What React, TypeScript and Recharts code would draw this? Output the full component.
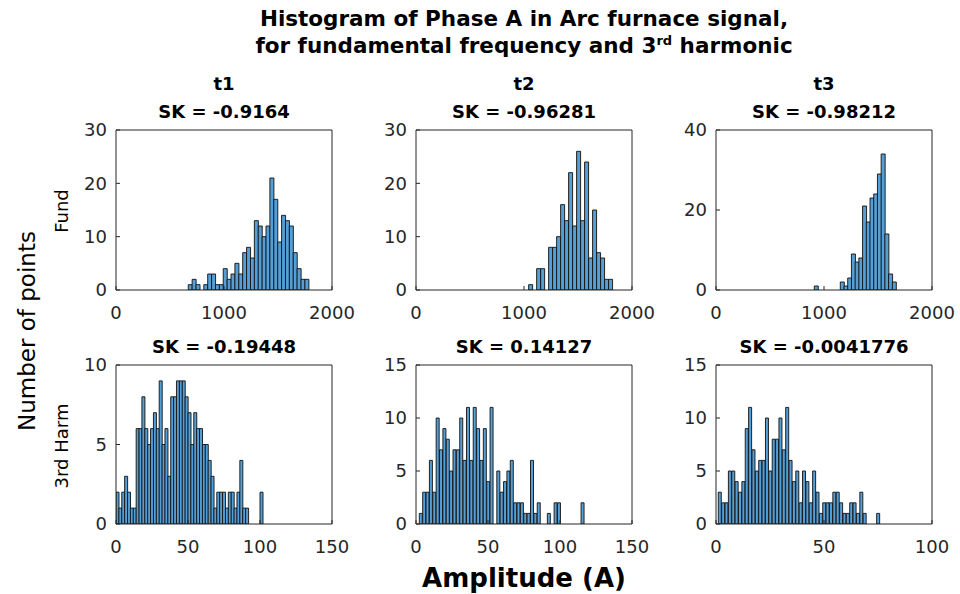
import React from 'react';
import { BarChart, Bar, XAxis, YAxis } from 'recharts';

// histogram bins: first bin edge, bin width, counts per bin
const fundT1Start = 669;
const fundT1Width = 36;
const fundT1Counts = [1, 2, 1, 0, 1, 3, 3, 1, 1, 4, 2, 3, 5, 3, 7, 8, 6, 13, 12, 10, 12, 21, 17, 9, 14, 13, 12, 7, 4, 2, 2];

const fundT2Start = 1043;
const fundT2Width = 37;
const fundT2Counts = [1, 0, 4, 4, 0, 8, 8, 10, 16, 13, 22, 12, 26, 13, 24, 6, 15, 7, 6, 2, 2];

const fundT3Start = 910;
const fundT3Width = 34.4;
const fundT3Counts = [1, 0, 0, 0, 0, 0, 0, 2, 1, 3, 9, 7, 8, 21, 17, 23, 24, 29, 34, 14, 4, 2];

const harmT1Start = 0;
const harmT1Width = 2;
const harmT1Counts = [
  2, 1, 2, 3, 2, 1, 1, 6, 6, 8, 6, 5, 6, 7, 6, 9, 5, 6, 3, 8, 8, 9, 9, 9, 8, 7, 5, 7, 6, 6,
  5, 5, 4, 3, 1, 2, 2, 2, 1, 2, 2, 1, 2, 4, 1, 1, 0, 0, 0, 0, 2,
];

const harmT2Start = 2.3;
const harmT2Width = 2.34;
const harmT2Counts = [
  1, 3, 3, 6, 3, 10, 7, 9, 8, 5, 7, 7, 10, 6, 11, 6, 11, 9, 6, 9, 4, 11, 0, 5, 3, 4, 5, 6, 2, 2,
  2, 1, 1, 6, 1, 2, 0, 0, 1, 0, 2, 2, 0, 0, 0, 0, 0, 0, 2,
];

const harmT3Start = 1.06;
const harmT3Width = 1.56;
const harmT3Counts = [
  3, 2, 2, 5, 5, 4, 3, 4, 9, 11, 7, 5, 6, 6, 10, 5, 8, 8, 10, 7, 11, 6, 4, 5, 2, 5, 4, 2, 5, 3,
  1, 2, 2, 2, 3, 3, 2, 1, 1, 2, 2, 1, 3, 1, 0, 0, 0, 1,
];

const fundXTicks = [0, 1000, 2000];
const harmXTicks12 = [0, 50, 100, 150];
const harmXTicks3 = [0, 50, 100];
const fundYTicks12 = [0, 10, 20, 30];
const fundYTicks3 = [0, 20, 40];
const harmYTicks1 = [0, 5, 10];
const harmYTicks23 = [0, 5, 10, 15];

const columnNames = ['t1', 't2', 't3'];
const fundSK = ['SK = -0.9164', 'SK = -0.96281', 'SK = -0.98212'];
const harmSK = ['SK = -0.19448', 'SK = 0.14127', 'SK = -0.0041776'];

const bins = (start: number, width: number, counts: number[]) =>
  counts.map((c, i) => ({ x: start + width * (i + 0.5), count: c }));

const AXIS = '#262626';
const FILL = '#559fd5';
const PLOT_W = 216;
const AXIS_W = 50;
const PAD_TOP = 12;
const PAD_RIGHT = 30;
const FONT = '"DejaVu Sans", Verdana, sans-serif';

type PanelProps = {
  data: { x: number; count: number }[];
  xTicks: number[];
  yTicks: number[];
  left: number;
  top: number;
  height: number;
};

function Panel({ data, xTicks, yTicks, left, top, height }: PanelProps) {
  const xDomain = [xTicks[0], xTicks[xTicks.length - 1]];
  const yDomain = [yTicks[0], yTicks[yTicks.length - 1]];
  const tickStyle = { fill: AXIS, fontSize: 18, fontFamily: FONT };
  return (
    <div style={{ position: 'absolute', left: left - AXIS_W, top: top - 1 - PAD_TOP }}>
      <BarChart
        width={AXIS_W + PLOT_W + 1 + PAD_RIGHT}
        height={PAD_TOP + height + 41}
        data={data}
        margin={{ top: PAD_TOP, right: PAD_RIGHT, bottom: 0, left: 0 }}
        barCategoryGap={0}
        barGap={0}
      >
        <XAxis
          xAxisId="b"
          dataKey="x"
          type="number"
          domain={xDomain}
          ticks={xTicks}
          interval={0}
          allowDataOverflow
          height={40}
          stroke={AXIS}
          tickSize={-4}
          tickMargin={20}
          tick={tickStyle}
        />
        <XAxis
          xAxisId="t"
          orientation="top"
          dataKey="x"
          type="number"
          domain={xDomain}
          ticks={xTicks}
          interval={0}
          allowDataOverflow
          height={1}
          stroke={AXIS}
          tickSize={-4}
          tick={false}
        />
        <YAxis
          yAxisId="l"
          type="number"
          domain={yDomain}
          ticks={yTicks}
          interval={0}
          allowDataOverflow
          width={AXIS_W}
          stroke={AXIS}
          tickSize={-4}
          tickMargin={13}
          tick={tickStyle}
        />
        <YAxis
          yAxisId="r"
          orientation="right"
          type="number"
          domain={yDomain}
          ticks={yTicks}
          interval={0}
          allowDataOverflow
          width={1}
          stroke={AXIS}
          tickSize={-4}
          tick={false}
        />
        <Bar
          xAxisId="b"
          yAxisId="l"
          dataKey="count"
          fill={FILL}
          stroke="#111"
          strokeWidth={0.9}
          isAnimationActive={false}
        />
      </BarChart>
    </div>
  );
}

type TextProps = {
  cx: number;
  cy: number;
  size: number;
  bold?: boolean;
  rotate?: boolean;
  children: React.ReactNode;
};

function Label({ cx, cy, size, bold, rotate, children }: TextProps) {
  return (
    <div
      style={{
        position: 'absolute',
        left: cx,
        top: cy,
        transform: `translate(-50%, -50%)${rotate ? ' rotate(-90deg)' : ''}`,
        fontSize: size,
        fontWeight: bold ? 'bold' : 'normal',
        whiteSpace: 'nowrap',
        lineHeight: 1,
        color: '#000',
      }}
    >
      {children}
    </div>
  );
}

const colLeft = [116, 416, 716];
const TOP_ROW = 130;
const BOTTOM_ROW = 365;

export default function App() {
  const fundData = [
    bins(fundT1Start, fundT1Width, fundT1Counts),
    bins(fundT2Start, fundT2Width, fundT2Counts),
    bins(fundT3Start, fundT3Width, fundT3Counts),
  ];
  const harmData = [
    bins(harmT1Start, harmT1Width, harmT1Counts),
    bins(harmT2Start, harmT2Width, harmT2Counts),
    bins(harmT3Start, harmT3Width, harmT3Counts),
  ];
  const fundY = [fundYTicks12, fundYTicks12, fundYTicks3];
  const harmX = [harmXTicks12, harmXTicks12, harmXTicks3];
  const harmY = [harmYTicks1, harmYTicks23, harmYTicks23];

  return (
    <div
      style={{
        position: 'absolute',
        left: 0,
        top: 0,
        width: 960,
        height: 594,
        background: '#fff',
        fontFamily: FONT,
        overflow: 'hidden',
      }}
    >
      <Label cx={524} cy={19} size={21.5} bold>
        Histogram of Phase A in Arc furnace signal,
      </Label>
      <Label cx={524} cy={45} size={21.5} bold>
        for fundamental frequency and 3<sup style={{ fontSize: 13 }}>rd</sup> harmonic
      </Label>

      {colLeft.map((l, i) => (
        <React.Fragment key={i}>
          <Label cx={l + PLOT_W / 2} cy={84} size={18} bold>
            {columnNames[i]}
          </Label>
          <Label cx={l + PLOT_W / 2} cy={112} size={18} bold>
            {fundSK[i]}
          </Label>
          <Label cx={l + PLOT_W / 2} cy={347} size={18} bold>
            {harmSK[i]}
          </Label>
          <Panel data={fundData[i]} xTicks={fundXTicks} yTicks={fundY[i]} left={l} top={TOP_ROW} height={160} />
          <Panel data={harmData[i]} xTicks={harmX[i]} yTicks={harmY[i]} left={l} top={BOTTOM_ROW} height={159} />
        </React.Fragment>
      ))}

      <Label cx={62} cy={211} size={18} rotate>
        Fund
      </Label>
      <Label cx={62} cy={446} size={18} rotate>
        3rd Harm
      </Label>
      <Label cx={27} cy={331} size={23} rotate>
        Number of points
      </Label>
      <Label cx={524} cy={578} size={26} bold>
        Amplitude (A)
      </Label>
    </div>
  );
}
